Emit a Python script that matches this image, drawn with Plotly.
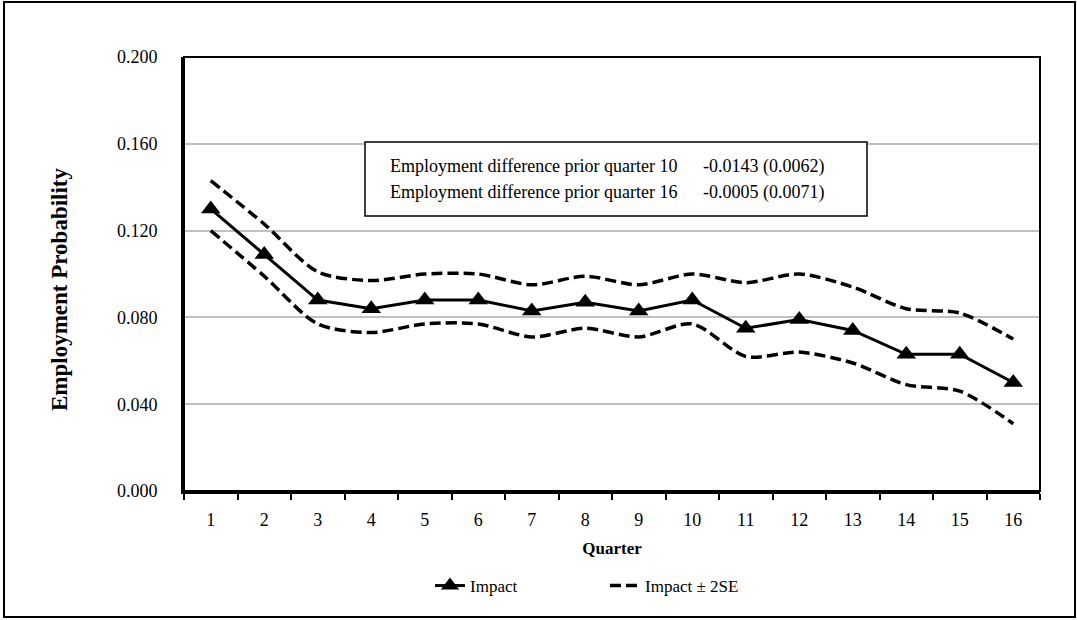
import plotly.graph_objects as go

# Quarterly employment impact estimates with a +/- 2 standard error band
quarters = [str(q) for q in range(1, 17)]
impact = [0.130, 0.109, 0.088, 0.084, 0.088, 0.088, 0.083, 0.087,
          0.083, 0.088, 0.075, 0.079, 0.074, 0.063, 0.063, 0.050]
upper = [0.143, 0.123, 0.101, 0.097, 0.100, 0.100, 0.095, 0.099,
         0.095, 0.100, 0.096, 0.100, 0.094, 0.084, 0.082, 0.070]
lower = [0.120, 0.099, 0.077, 0.073, 0.077, 0.077, 0.071, 0.075,
         0.071, 0.077, 0.062, 0.064, 0.059, 0.049, 0.046, 0.031]

y_ticks = [0.0, 0.04, 0.08, 0.12, 0.16, 0.2]
y_tick_text = ["0.000", "0.040", "0.080", "0.120", "0.160", "0.200"]

note_labels = ["Employment difference prior quarter 10",
               "Employment difference prior quarter 16"]
note_values = ["-0.0143 (0.0062)", "-0.0005 (0.0071)"]

FONT = "Liberation Serif, Times New Roman, serif"
W, H = 1077, 620
L, R, T, B = 184, 37, 57, 129
PW, PH = W - L - R, H - T - B


def px_x(px):
    return (px - L) / PW


def px_y(py):
    return (H - B - py) / PH


fig = go.Figure()

fig.add_trace(go.Scatter(
    x=quarters, y=impact, name="Impact", mode="lines+markers",
    line=dict(color="black", width=3),
    marker=dict(symbol="triangle-up", size=17, color="black"),
))
fig.add_trace(go.Scatter(
    x=quarters, y=upper, name="Impact ± 2SE", mode="lines",
    line=dict(color="black", width=3.5, dash="11px,5px", shape="spline", smoothing=0.8),
))
fig.add_trace(go.Scatter(
    x=quarters, y=lower, name="Impact ± 2SE", mode="lines", showlegend=False,
    line=dict(color="black", width=3.5, dash="11px,5px", shape="spline", smoothing=0.8),
))

shapes = [
    # outer frame
    dict(type="rect", xref="paper", yref="paper",
         x0=px_x(4), x1=px_x(1075), y0=px_y(617), y1=px_y(2),
         line=dict(color="black", width=2)),
    # plot area frame
    dict(type="rect", xref="paper", yref="paper",
         x0=0, x1=1, y0=0, y1=1, line=dict(color="black", width=2)),
    # note box
    dict(type="rect", xref="paper", yref="paper",
         x0=px_x(365), x1=px_x(867), y0=px_y(216), y1=px_y(142),
         line=dict(color="black", width=1.5), fillcolor="white", layer="above"),
]

annotations = []
for i, (lab, val) in enumerate(zip(note_labels, note_values)):
    yy = px_y(166 + i * 26)
    annotations.append(dict(x=px_x(388), y=yy, xref="paper", yref="paper",
                            text=lab, showarrow=False, xanchor="left", yanchor="middle",
                            font=dict(family=FONT, size=18, color="black")))
    annotations.append(dict(x=px_x(701), y=yy, xref="paper", yref="paper",
                            text=val, showarrow=False, xanchor="left", yanchor="middle",
                            font=dict(family=FONT, size=18, color="black")))

# vertical axis title
annotations.append(dict(x=px_x(59), y=px_y(289), xref="paper", yref="paper",
                        text="<b>Employment Probability</b>", textangle=-90,
                        showarrow=False, xanchor="center", yanchor="middle",
                        font=dict(family=FONT, size=23, color="black")))

fig.update_layout(
    width=W, height=H,
    margin=dict(l=L, r=R, t=T, b=B),
    paper_bgcolor="white", plot_bgcolor="white",
    font=dict(family=FONT, size=18, color="black"),
    shapes=shapes,
    annotations=annotations,
    legend=dict(orientation="h", x=px_x(605), y=px_y(586), xanchor="center", yanchor="middle",
                font=dict(family=FONT, size=17), entrywidth=130, tracegroupgap=0,
                bgcolor="rgba(0,0,0,0)"),
    xaxis=dict(
        type="category", range=[-0.5, 15.5], tickson="boundaries",
        ticks="outside", ticklen=6, tickwidth=2,
        tickcolor="black", showline=True, linecolor="black", linewidth=3,
        showgrid=False, ticklabelstandoff=10,
        tickfont=dict(family=FONT, size=18),
        title=dict(text="<b>Quarter</b>", font=dict(family=FONT, size=17), standoff=14),
    ),
    yaxis=dict(
        range=[0, 0.2], tickvals=y_ticks, ticktext=y_tick_text,
        showline=True, linecolor="black", linewidth=3, ticks="",
        showgrid=True, gridcolor="#c0c0c0", gridwidth=2, zeroline=False,
        ticklabelstandoff=20, tickfont=dict(family=FONT, size=18),
    ),
)

fig.write_html("out.html")
